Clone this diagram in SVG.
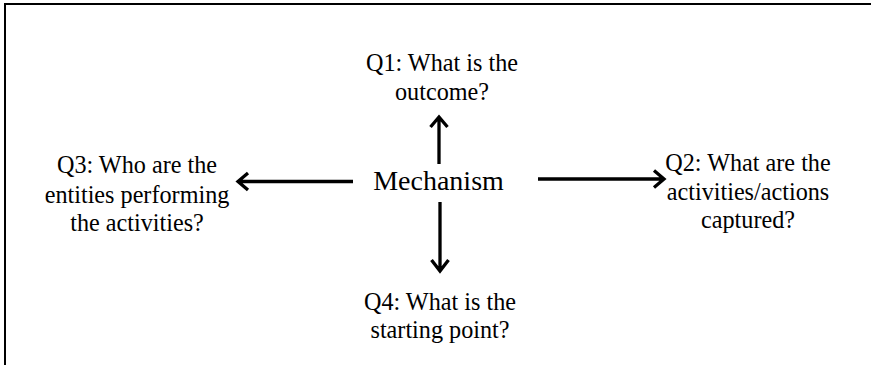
<svg xmlns="http://www.w3.org/2000/svg" width="871" height="365" viewBox="0 0 871 365">
<style>
.t{font-family:"Liberation Serif","Times New Roman",serif;font-size:24.2px;fill:#000;text-anchor:middle}
.m{font-size:28px}
.c{fill:none;stroke:#000;stroke-width:3.3}
.b{fill:none;stroke:#000;stroke-width:2}
</style>
<rect width="871" height="365" fill="#fff"/>
<path class="b" d="M5,365 V4 H871"/>
<g id="mechanism"><text class="t m" x="438.5" y="190">Mechanism</text></g>
<g id="q1"><text class="t" x="442" y="71">Q1: What is the</text><text class="t" x="442" y="100">outcome?</text></g>
<g id="q2"><text class="t" x="748" y="171">Q2: What are the</text><text class="t" x="748" y="200">activities/actions</text><text class="t" x="748" y="228">captured?</text></g>
<g id="q3"><text class="t" x="137" y="173">Q3: Who are the</text><text class="t" x="137" y="203">entities performing</text><text class="t" x="137" y="231">the activities?</text></g>
<g id="q4"><text class="t" x="440" y="310">Q4: What is the</text><text class="t" x="440" y="338">starting point?</text></g>
<g id="connectors">
<path class="c" d="M439,164 V117 M430.5,127 L439,117 L447.5,127"/>
<path class="c" d="M440,202 V271 M431.5,260 L440,271 L448.5,260"/>
<path class="c" d="M353,181.5 H238 M248,173 L238,181.5 L248,190"/>
<path class="c" d="M538,179 H664 M654,170.5 L664,179 L654,187.5"/>
</g>
</svg>
